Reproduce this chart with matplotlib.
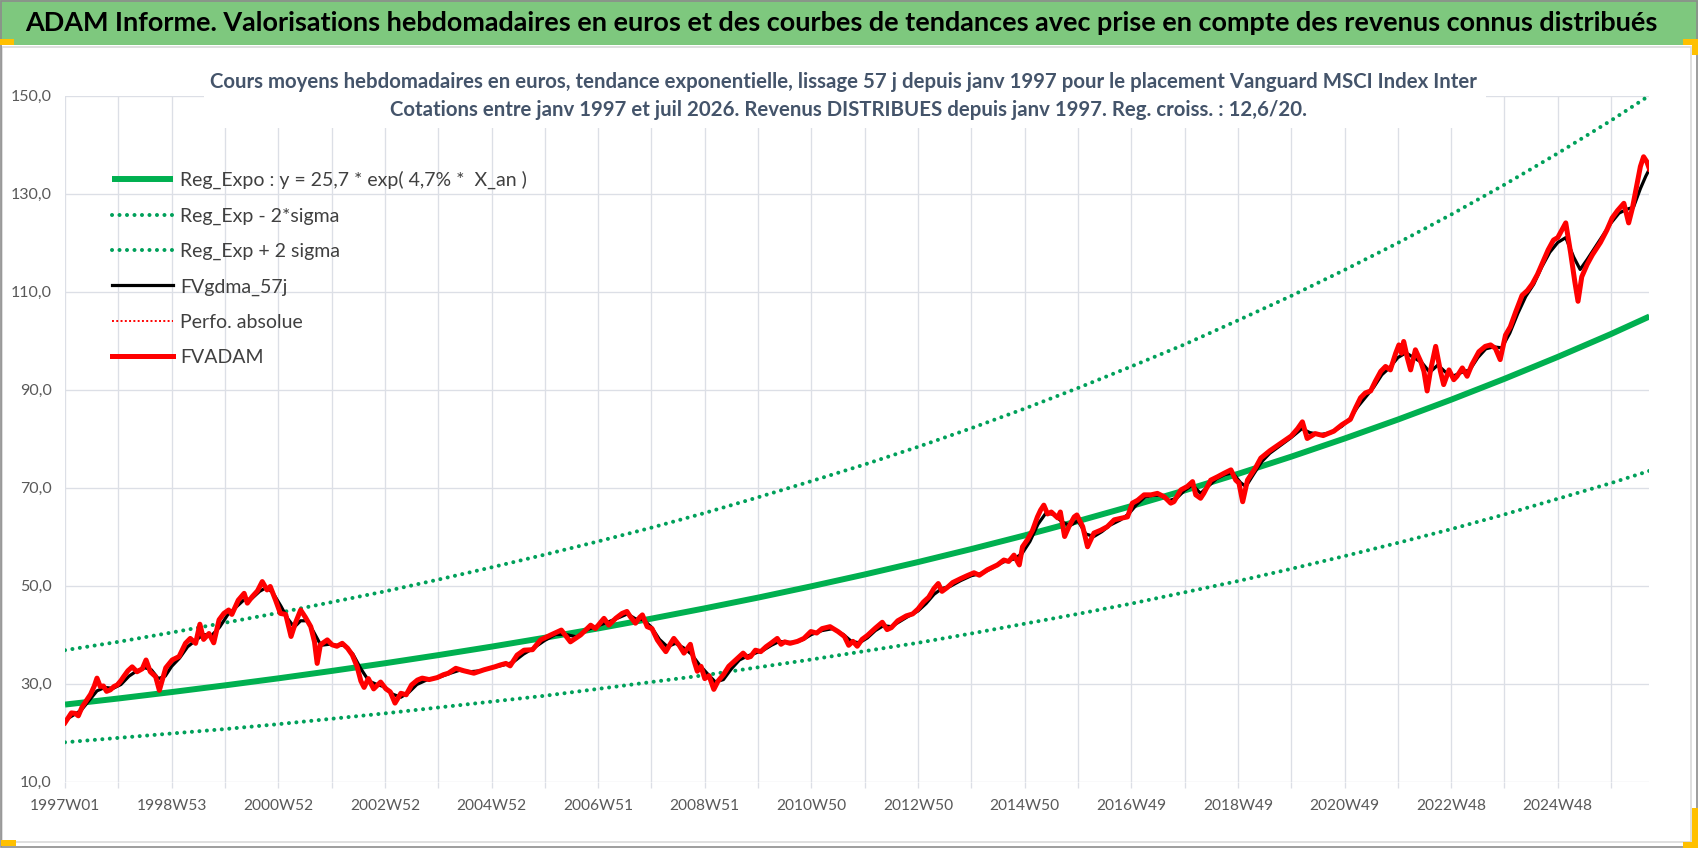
import numpy as np
import matplotlib
matplotlib.use('Agg')
import matplotlib.pyplot as plt
from matplotlib.lines import Line2D
from matplotlib.patches import Rectangle

W, H = 1698, 848
plt.rcParams['font.family'] = ['Lato', 'DejaVu Sans']

# ---------------- data ----------------
WEEKS_PER_UNIT = 52
x_labels = ['1997W01', '1998W53', '2000W52', '2002W52', '2004W52', '2006W51',
            '2008W51', '2010W50', '2012W50', '2014W50', '2016W49', '2018W49',
            '2020W49', '2022W48', '2024W48']
y_ticks = [10, 30, 50, 70, 90, 110, 130, 150]
y_labels = ['10,0', '30,0', '50,0', '70,0', '90,0', '110,0', '130,0', '150,0']
n_weeks = 1545

trend_t = [0, 1, 2, 3, 4, 5, 6, 7, 8, 9, 10, 11, 12, 13, 14, 15, 16, 17, 18, 19, 20,
           21, 22, 23, 24, 25, 26, 27, 28, 29, 29.72]
reg_expo = [25.70, 26.94, 28.25, 29.62, 31.05, 32.56, 34.13, 35.79, 37.52, 39.34, 41.24,
            43.24, 45.34, 47.53, 49.84, 52.25, 54.78, 57.44, 60.22, 63.14, 66.20,
            69.40, 72.77, 76.29, 79.99, 83.86, 87.92, 92.18, 96.65, 101.33, 104.9]
reg_low = [18.0, 18.9, 19.8, 20.7, 21.7, 22.8, 23.9, 25.1, 26.3, 27.5, 28.9, 30.3, 31.7, 33.3,
           34.9, 36.6, 38.3, 40.2, 42.2, 44.2, 46.3, 48.6, 50.9, 53.4, 56.0, 58.7, 61.5, 64.5,
           67.7, 70.9, 73.4]
reg_high = [36.8, 38.5, 40.4, 42.4, 44.4, 46.6, 48.8, 51.2, 53.7, 56.3, 59.0, 61.8, 64.8, 68.0,
            71.3, 74.7, 78.3, 82.1, 86.1, 90.3, 94.7, 99.2, 104.1, 109.1, 114.4, 119.9, 125.7,
            131.8, 138.2, 144.9, 150.0]

fv_t = [0.00, 0.06, 0.12, 0.19, 0.25, 0.32, 0.40, 0.48, 0.55, 0.60, 0.66, 0.72, 0.78, 0.85, 0.92, 0.98,
        1.05, 1.10, 1.18, 1.26, 1.35, 1.45, 1.52, 1.60, 1.70, 1.77, 1.82, 1.89, 2.01, 2.14, 2.26, 2.35,
        2.45, 2.53, 2.60, 2.70, 2.79, 2.89, 2.98, 3.07, 3.13, 3.25, 3.36, 3.42, 3.51, 3.61, 3.70, 3.79,
        3.85, 3.95, 4.04, 4.14, 4.24, 4.32, 4.42, 4.51, 4.61, 4.68, 4.73, 4.79, 4.92, 5.01, 5.10, 5.20,
        5.30, 5.39, 5.48, 5.55, 5.61, 5.69, 5.79, 5.92, 6.02, 6.10, 6.19, 6.30, 6.40, 6.50, 6.61, 6.70,
        6.83, 6.98, 7.10, 7.19, 7.33, 7.48, 7.67, 7.86, 8.06, 8.17, 8.27, 8.35, 8.48, 8.61, 8.77, 8.92,
        9.11, 9.31, 9.48, 9.67, 9.86, 9.95, 10.11, 10.20, 10.33, 10.45, 10.54, 10.60, 10.70, 10.78, 10.83, 10.92,
        11.01, 11.11, 11.20, 11.27, 11.35, 11.42, 11.52, 11.61, 11.73, 11.80, 11.86, 11.93, 12.00, 12.08, 12.17, 12.25,
        12.35, 12.45, 12.55, 12.61, 12.72, 12.80, 12.86, 12.95, 13.05, 13.15, 13.24, 13.36, 13.43, 13.50, 13.60, 13.74,
        13.86, 13.99, 14.10, 14.20, 14.35, 14.50, 14.62, 14.70, 14.78, 14.86, 14.95, 15.05, 15.20, 15.33, 15.42, 15.50,
        15.62, 15.78, 15.90, 16.00, 16.10, 16.20, 16.30, 16.38, 16.45, 16.55, 16.65, 16.80, 16.92, 17.05, 17.15, 17.30,
        17.49, 17.61, 17.70, 17.80, 17.90, 17.96, 18.05, 18.15, 18.24, 18.30, 18.36, 18.43, 18.50, 18.62, 18.67, 18.75,
        18.83, 18.93, 18.98, 19.09, 19.18, 19.30, 19.43, 19.55, 19.68, 19.80, 19.93, 20.02, 20.12, 20.24, 20.37, 20.49,
        20.62, 20.74, 20.80, 20.93, 21.05, 21.15, 21.21, 21.30, 21.36, 21.49, 21.62, 21.74, 21.87, 21.96, 22.02, 22.09,
        22.18, 22.34, 22.43, 22.60, 22.80, 23.00, 23.12, 23.21, 23.30, 23.45, 23.60, 23.80, 23.95, 24.11, 24.21, 24.30,
        24.39, 24.49, 24.58, 24.68, 24.77, 24.86, 24.96, 25.02, 25.07, 25.11, 25.18, 25.24, 25.33, 25.43, 25.49, 25.55,
        25.61, 25.71, 25.80, 25.86, 25.96, 26.05, 26.11, 26.21, 26.30, 26.39, 26.52, 26.64, 26.74, 26.83, 26.92, 27.02,
        27.11, 27.21, 27.33, 27.43, 27.52, 27.62, 27.72, 27.82, 27.92, 28.00, 28.15, 28.24, 28.32, 28.38, 28.45, 28.55,
        28.65, 28.80, 28.92, 29.02, 29.12, 29.24, 29.33, 29.40, 29.48, 29.55, 29.61, 29.67, 29.72]
fvadam = [22.0, 23.0, 24.0, 23.9, 23.4, 25.2, 26.5, 27.8, 29.5, 31.1, 29.4, 29.5, 28.4, 28.7, 29.4, 29.7,
          30.6, 31.4, 32.6, 33.4, 32.4, 33.0, 34.8, 32.4, 31.4, 28.6, 30.5, 33.2, 34.8, 35.5, 38.2, 39.2,
          38.2, 42.1, 39.0, 40.2, 38.3, 43.0, 44.3, 45.0, 44.1, 47.0, 48.4, 46.4, 47.7, 48.9, 50.8, 49.1,
          49.8, 47.0, 44.3, 44.1, 39.6, 42.3, 45.0, 43.5, 41.6, 38.5, 34.1, 37.9, 38.9, 37.9, 37.6, 38.2,
          37.2, 35.8, 33.4, 30.5, 29.2, 31.0, 28.9, 30.3, 28.9, 28.3, 26.0, 28.0, 27.7, 29.7, 30.7, 31.1,
          30.8, 31.2, 31.8, 32.1, 33.1, 32.6, 32.1, 32.8, 33.4, 33.8, 34.1, 33.6, 35.8, 36.8, 36.9, 38.9,
          39.9, 40.9, 38.5, 39.9, 41.9, 41.2, 43.3, 41.9, 43.3, 44.3, 44.7, 43.7, 42.3, 43.5, 44.0, 41.6,
          41.2, 38.9, 37.5, 36.5, 38.0, 39.2, 37.8, 36.2, 38.0, 34.6, 32.5, 33.5, 31.0, 31.6, 28.8, 30.5,
          31.8, 33.5, 34.5, 35.1, 36.2, 35.3, 35.5, 36.8, 36.5, 37.5, 38.2, 39.2, 38.0, 38.5, 38.2, 38.6,
          39.2, 40.6, 40.3, 41.2, 41.6, 40.6, 39.6, 37.8, 38.6, 37.6, 39.0, 39.8, 41.3, 42.5, 41.0, 41.4,
          42.8, 43.8, 44.2, 45.2, 46.6, 47.6, 49.4, 50.4, 48.8, 49.6, 50.6, 51.4, 52.0, 52.6, 52.1, 53.2,
          54.2, 55.2, 54.9, 56.2, 54.2, 57.9, 59.3, 61.3, 64.0, 65.4, 66.4, 64.6, 65.0, 63.8, 65.0, 60.0,
          62.0, 64.0, 64.4, 62.0, 57.9, 60.7, 61.3, 62.0, 63.4, 63.7, 64.0, 66.8, 67.4, 68.5, 68.5, 68.8,
          68.1, 66.8, 67.1, 69.5, 70.2, 71.2, 68.5, 67.8, 68.8, 71.5, 72.2, 72.9, 73.6, 71.5, 70.9, 67.1,
          71.5, 74.2, 76.0, 77.5, 79.0, 80.5, 82.0, 83.4, 80.0, 81.0, 80.6, 81.5, 82.8, 83.9, 86.3, 88.3,
          89.3, 89.7, 91.7, 93.7, 94.7, 94.0, 97.4, 99.1, 97.4, 99.8, 96.4, 94.0, 98.1, 95.7, 93.7, 89.7,
          93.7, 98.8, 93.7, 91.0, 94.0, 92.0, 92.7, 94.4, 92.7, 95.1, 97.7, 98.8, 99.1, 98.4, 96.1, 101.1,
          102.8, 105.8, 109.2, 110.2, 111.5, 113.5, 116.0, 118.5, 120.5, 121.0, 124.0, 118.0, 112.0, 108.0, 113.0, 115.5,
          117.5, 120.0, 122.5, 125.0, 126.5, 128.0, 124.0, 127.0, 131.5, 135.5, 137.5, 136.5, 135.0]

gdma_t = [0.0, 0.15, 0.3, 0.45, 0.6, 0.75, 0.9, 1.05, 1.2, 1.35, 1.5, 1.62, 1.75, 1.88, 2.0, 2.15,
          2.3, 2.45, 2.6, 2.75, 2.9, 3.05, 3.2, 3.35, 3.5, 3.65, 3.78, 3.9, 4.05, 4.18, 4.3, 4.42,
          4.55, 4.68, 4.8, 4.95, 5.1, 5.25, 5.4, 5.55, 5.7, 5.85, 6.0, 6.15, 6.3, 6.45, 6.6, 6.8,
          7.0, 7.2, 7.4, 7.6, 7.8, 8.0, 8.2, 8.4, 8.6, 8.8, 9.0, 9.2, 9.4, 9.6, 9.8, 10.0,
          10.2, 10.4, 10.55, 10.7, 10.85, 11.0, 11.15, 11.3, 11.45, 11.6, 11.75, 11.9, 12.05, 12.2, 12.35, 12.5,
          12.65, 12.8, 12.95, 13.1, 13.25, 13.4, 13.55, 13.7, 13.85, 14.0, 14.2, 14.4, 14.6, 14.75, 14.9, 15.05,
          15.2, 15.35, 15.5, 15.65, 15.8, 16.0, 16.15, 16.3, 16.45, 16.6, 16.8, 17.0, 17.2, 17.4, 17.6, 17.8,
          17.95, 18.1, 18.25, 18.4, 18.55, 18.7, 18.85, 19.0, 19.15, 19.3, 19.45, 19.6, 19.8, 19.95, 20.1, 20.25,
          20.4, 20.55, 20.7, 20.85, 21.0, 21.15, 21.3, 21.45, 21.6, 21.75, 21.9, 22.05, 22.15, 22.3, 22.45, 22.6,
          22.8, 23.0, 23.2, 23.35, 23.55, 23.75, 23.95, 24.1, 24.25, 24.4, 24.55, 24.7, 24.85, 25.0, 25.15, 25.3,
          25.45, 25.6, 25.75, 25.9, 26.05, 26.2, 26.35, 26.5, 26.65, 26.8, 26.95, 27.1, 27.25, 27.4, 27.55, 27.7,
          27.85, 28.0, 28.15, 28.3, 28.42, 28.55, 28.7, 28.85, 29.0, 29.15, 29.3, 29.42, 29.55, 29.65, 29.72]
fvgdma = [22.5, 23.5, 24.5, 26.5, 28.5, 29.2, 29.0, 29.8, 31.5, 32.6, 33.2, 32.8, 31.0, 31.5, 33.5, 35.2,
          37.5, 38.8, 40.0, 39.8, 41.5, 44.0, 45.5, 47.0, 47.3, 48.8, 49.6, 48.5, 45.8, 43.2, 41.5, 42.8,
          42.8, 40.2, 37.8, 38.0, 37.8, 37.8, 36.0, 33.0, 30.5, 29.8, 29.3, 27.8, 27.2, 28.2, 29.8, 30.8,
          31.2, 32.0, 32.7, 32.4, 32.6, 33.2, 33.7, 34.3, 36.0, 37.3, 38.8, 40.0, 40.0, 39.5, 41.0, 41.8,
          42.6, 43.5, 44.2, 43.2, 43.0, 41.5, 39.0, 37.5, 38.2, 37.3, 36.0, 33.8, 32.0, 30.3, 30.8, 33.0,
          34.8, 35.6, 36.2, 36.8, 37.8, 38.6, 38.4, 38.4, 39.0, 40.0, 40.8, 41.2, 40.0, 38.6, 38.3, 39.3,
          40.8, 41.8, 41.6, 42.6, 43.6, 44.8, 46.3, 48.2, 49.4, 49.8, 51.0, 52.0, 52.5, 53.6, 54.8, 55.4,
          56.5, 59.0, 62.5, 64.8, 64.5, 63.0, 62.2, 63.2, 60.5, 60.0, 61.0, 62.3, 63.4, 64.6, 66.5, 68.0,
          68.4, 68.4, 67.3, 67.8, 69.4, 70.5, 68.8, 70.3, 71.8, 72.6, 73.0, 71.0, 70.2, 72.8, 75.3, 77.0,
          78.6, 80.2, 82.0, 81.2, 80.8, 81.2, 82.5, 84.0, 86.5, 88.5, 90.5, 93.0, 94.5, 96.5, 97.5, 96.5,
          95.5, 93.5, 95.0, 93.5, 92.8, 93.5, 94.0, 96.5, 98.3, 98.7, 98.5, 101.5, 105.5, 109.0, 111.5, 115.0,
          118.0, 120.0, 121.0, 117.0, 114.5, 116.5, 119.0, 121.5, 124.0, 126.0, 126.8, 127.2, 131.0, 133.5, 135.0]

title = ("ADAM Informe. Valorisations hebdomadaires en euros et des courbes de tendances "
         "avec prise en compte des revenus connus distribués")
sub1 = ("Cours moyens hebdomadaires en euros, tendance exponentielle, lissage 57 j depuis janv 1997 "
        "pour le placement Vanguard MSCI Index Inter")
sub2 = ("Cotations entre janv 1997 et juil 2026. Revenus DISTRIBUES depuis janv 1997. "
        "Reg. croiss. : 12,6/20.")
leg_labels = ['Reg_Expo : y = 25,7 * exp( 4,7% *  X_an )', 'Reg_Exp - 2*sigma', 'Reg_Exp + 2 sigma',
              'FVgdma_57j', 'Perfo. absolue', 'FVADAM']

# ---------------- styles ----------------
GREEN = '#00B050'
DOTGREEN = '#00A05A'
GRID = '#DCDFE6'
TXT = '#595959'
SUBC = '#44546A'
DOTS = (0, (0.01, 1.85))


def fx(p):
    return p / W


def fy(p):
    return 1 - p / H


fig = plt.figure(figsize=(W / 100, H / 100), dpi=100)
fig.patch.set_facecolor('white')
renderer = fig.canvas.get_renderer()


def text_w(s, size, weight='normal'):
    t = fig.text(0, 0, s, fontsize=size, fontweight=weight)
    w = t.get_window_extent(renderer).width
    t.remove()
    return w


# frame decorations
fig.add_artist(Rectangle((0, fy(45)), 1, 45 / H, transform=fig.transFigure,
                         facecolor='#7EC87E', edgecolor='none', zorder=0))
fig.add_artist(Rectangle((fx(2), fy(842)), fx(1691) - fx(2), fy(47) - fy(842), transform=fig.transFigure,
                         facecolor='none', edgecolor='#D9D9D9', lw=1.2, zorder=0))
fig.add_artist(Rectangle((0.0005, 0.001), 0.999, 0.998, transform=fig.transFigure,
                         facecolor='none', edgecolor='#8C8C8C', lw=1.2, zorder=5))
ORANGE = '#FFC000'
for (x0, y0, x1, y1) in [(0, 39, 14, 45), (1683, 39, 1698, 45), (1692, 39, 1698, 55),
                         (1, 840, 16, 846), (1692, 808, 1698, 848), (1683, 842, 1698, 848)]:
    fig.add_artist(Rectangle((fx(x0), fy(y1)), fx(x1) - fx(x0), fy(y0) - fy(y1), transform=fig.transFigure,
                             facecolor=ORANGE, edgecolor='none', zorder=6))

# ---------------- axes ----------------
ax = fig.add_axes([fx(65), fy(781.5), fx(1649) - fx(65), fy(95.5) - fy(781.5)])
ax.set_xlim(0, n_weeks)
ax.set_ylim(10, 150)
for s in ax.spines.values():
    s.set_visible(False)

tw = np.array(trend_t) * WEEKS_PER_UNIT
ax.plot(tw, reg_expo, color=GREEN, lw=4.3, solid_capstyle='butt', zorder=3, label=leg_labels[0])
ax.plot(tw, reg_low, color=DOTGREEN, lw=2.9, linestyle=DOTS, dash_capstyle='round',
        zorder=3, label=leg_labels[1])
ax.plot(tw, reg_high, color=DOTGREEN, lw=2.9, linestyle=DOTS, dash_capstyle='round',
        zorder=3, label=leg_labels[2])
ax.plot(np.array(gdma_t) * WEEKS_PER_UNIT, fvgdma, color='black', lw=2.3, zorder=4, label=leg_labels[3])
perfo_handle = Line2D([], [], color='#FF0000', lw=1.4, linestyle=(0, (1, 1.2)))
ax.plot(np.array(fv_t) * WEEKS_PER_UNIT, fvadam, color='#FF0000', lw=3.6, zorder=5,
        solid_joinstyle='round', label=leg_labels[5])

# ticks and grid
major = np.arange(len(x_labels)) * 2 * WEEKS_PER_UNIT
minor = np.arange(1, 2 * len(x_labels), 2) * WEEKS_PER_UNIT
minor = minor[minor < n_weeks - 10]
ax.set_xticks(major)
ax.set_xticks(minor, minor=True)
ax.set_yticks(y_ticks)
xs = 20 * 70 / text_w('1997W01', 20)
ys = 20 * 41 / text_w('150,0', 20)
ax.set_xticklabels(x_labels, fontsize=xs, color=TXT)
ax.set_yticklabels(y_labels, fontsize=ys, color=TXT)
ax.tick_params(axis='x', which='both', length=4.3, width=0.95, color=GRID, direction='out', pad=8.5)
ax.tick_params(axis='y', length=0, pad=9.5)
ax.grid(True, which='both', axis='x', color=GRID, lw=0.95, zorder=0)
ax.grid(True, which='major', axis='y', color=GRID, lw=0.95, zorder=0)
ax.set_axisbelow(True)

# ---------------- titles ----------------
tsize = 20 * 1635 / text_w(title, 20, 'bold')
fig.text(fx(841), fy(23), title, ha='center', va='center', fontsize=tsize, fontweight='bold',
         color='black', zorder=4)

fig.add_artist(Rectangle((fx(204), fy(128)), fx(1486) - fx(204), fy(62) - fy(128), transform=fig.transFigure,
                         facecolor='white', edgecolor='none', zorder=1))
ssize = 20 * 1264 / text_w(sub1, 20, 'bold')
fig.text(fx(843), fy(82), sub1, ha='center', va='center', fontsize=ssize, fontweight='bold',
         color=SUBC, zorder=4)
fig.text(fx(848), fy(110), sub2, ha='center', va='center', fontsize=ssize, fontweight='bold',
         color=SUBC, zorder=4)

# ---------------- legend ----------------
lines = ax.get_lines()
handles = [lines[0], lines[1], lines[2], lines[3], perfo_handle, lines[4]]
fs_leg = 20 * 347 / text_w(leg_labels[0], 20)
fs_px = fs_leg * 100 / 72


def make_leg(ls, ax_x, ax_y):
    return ax.legend(handles, leg_labels, loc='upper left', bbox_to_anchor=(fx(ax_x), fy(ax_y)),
                     bbox_transform=fig.transFigure, frameon=False, borderpad=0, borderaxespad=0,
                     handlelength=61 / fs_px, handletextpad=7 / fs_px, labelspacing=ls,
                     fontsize=fs_leg, labelcolor='#404040')


ls = 0.7
leg = make_leg(ls, 112, 168)
fig.canvas.draw()
tb = [t.get_window_extent(renderer) for t in leg.get_texts()]
pitch = ((tb[0].y0 + tb[0].y1) / 2 - (tb[-1].y0 + tb[-1].y1) / 2) / 5
ls = ls + (35.5 - pitch) / fs_px
leg.remove()
leg = make_leg(ls, 112, 168)
fig.canvas.draw()
b0 = leg.get_texts()[0].get_window_extent(renderer)
dx = 180 - b0.x0
dy = 180 - (H - (b0.y0 + b0.y1) / 2)
leg.remove()
leg = make_leg(ls, 112 + dx, 168 + dy)

fig.savefig('out.png', dpi=100, facecolor='white')
